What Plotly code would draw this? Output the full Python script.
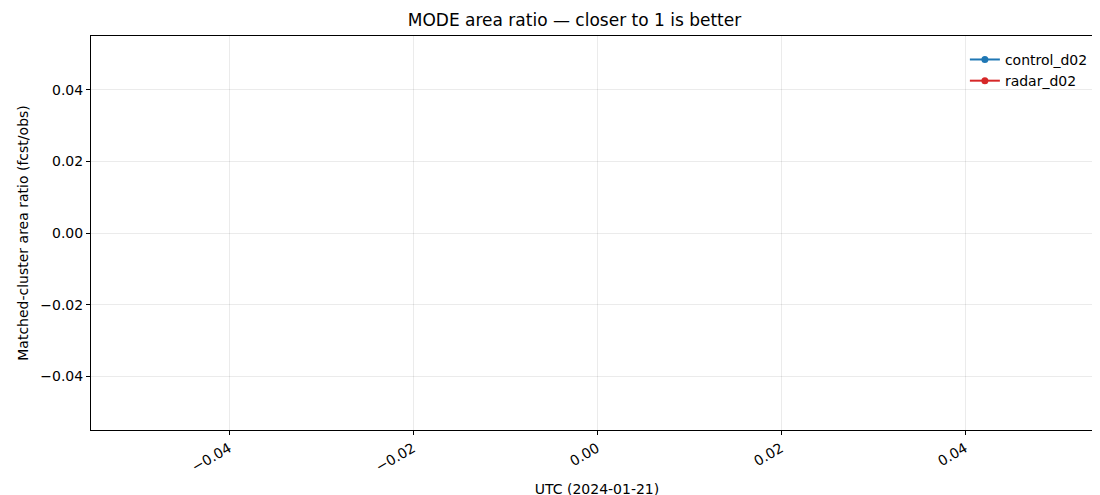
import plotly.graph_objects as go

# No valid data in this period: the series are empty
times = []
control_d02 = []
radar_d02 = []

tick_vals = [-0.04, -0.02, 0.0, 0.02, 0.04]
tick_text = ["\u22120.04", "\u22120.02", "0.00", "0.02", "0.04"]

fig = go.Figure()
fig.add_trace(go.Scatter(x=times or [None], y=control_d02 or [None], name="control_d02",
                         mode="lines+markers", line=dict(color="#1f77b4", width=2),
                         marker=dict(size=7)))
fig.add_trace(go.Scatter(x=times or [None], y=radar_d02 or [None], name="radar_d02",
                         mode="lines+markers", line=dict(color="#d62728", width=2),
                         marker=dict(size=7)))

axis_common = dict(showline=True, linecolor="black", linewidth=1, mirror=True,
                   ticks="outside", ticklen=4, tickcolor="black",
                   showgrid=True, gridcolor="rgba(0,0,0,0.08)", zeroline=False,
                   tickfont=dict(size=14, color="black"), automargin=False,
                   range=[-0.055, 0.055], tickvals=tick_vals, ticktext=tick_text)

fig.update_layout(
    width=1100, height=495,
    plot_bgcolor="white", paper_bgcolor="white",
    font=dict(family="DejaVu Sans", size=14, color="black"),
    title=dict(text="MODE area ratio \u2014 closer to 1 is better", x=0.515, y=0.975,
               xanchor="center", yanchor="middle", font=dict(size=17)),
    margin=dict(l=83, r=5, t=28, b=73, autoexpand=False),
    xaxis=dict(axis_common, tickangle=-30,
               title=dict(text="UTC (2024-01-21)", standoff=10, font=dict(size=14))),
    yaxis=dict(axis_common,
               title=dict(text="Matched-cluster area ratio (fcst/obs)", standoff=8,
                          font=dict(size=14))),
    legend=dict(x=0.99, y=0.98, xanchor="right", yanchor="top",
                bgcolor="rgba(255,255,255,0)", font=dict(size=14)),
    showlegend=True,
)

fig.write_html("out.html")
